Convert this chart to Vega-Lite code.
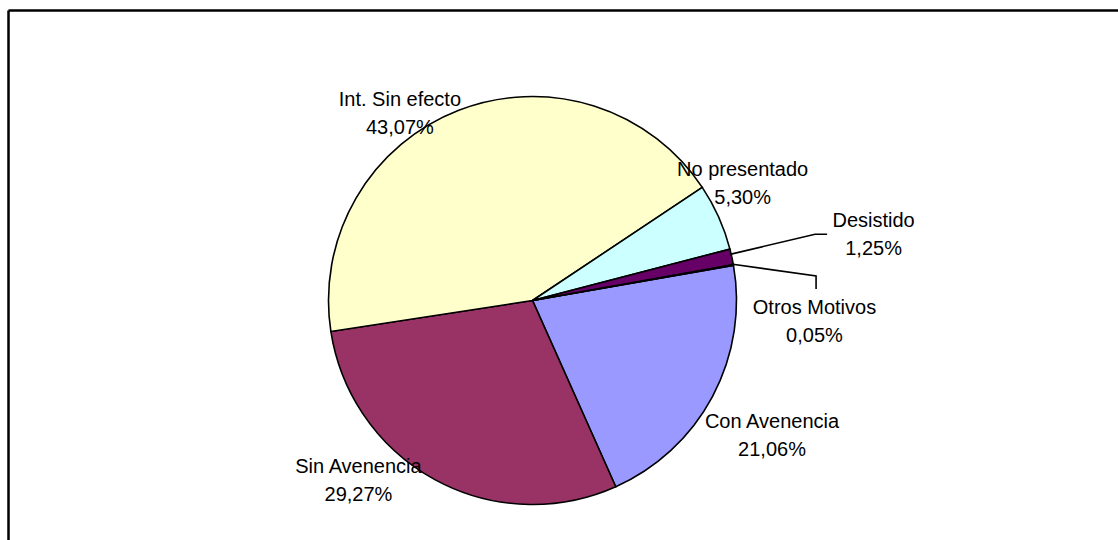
{
  "$schema": "https://vega.github.io/schema/vega-lite/v6.json",
  "width": 1110,
  "height": 530,
  "autosize": {"type": "none"},
  "padding": {"left": 8, "top": 10, "right": 0, "bottom": 0},
  "background": "white",
  "config": {"view": {"stroke": null}, "font": "Liberation Sans"},
  "datasets": {
    "slices": [
      {"category": "Con Avenencia", "pct": 21.06, "order": 1},
      {"category": "Sin Avenencia", "pct": 29.27, "order": 2},
      {"category": "Int. Sin efecto", "pct": 43.07, "order": 3},
      {"category": "No presentado", "pct": 5.30, "order": 4},
      {"category": "Desistido", "pct": 1.25, "order": 5},
      {"category": "Otros Motivos", "pct": 0.05, "order": 6}
    ],
    "labels": [
      {"category": "Con Avenencia", "pct": 21.06, "lx": 1.174, "ly": -0.663},
      {"category": "Sin Avenencia", "pct": 29.27, "lx": -0.853, "ly": -0.884},
      {"category": "Int. Sin efecto", "pct": 43.07, "lx": -0.650, "ly": 0.914},
      {"category": "No presentado", "pct": 5.30, "lx": 1.030, "ly": 0.569},
      {"category": "Desistido", "pct": 1.25, "lx": 1.672, "ly": 0.321},
      {"category": "Otros Motivos", "pct": 0.05, "lx": 1.382, "ly": -0.104}
    ],
    "leaders": [
      {"category": "Desistido", "seq": 1, "lx": 0.968, "ly": 0.226},
      {"category": "Desistido", "seq": 2, "lx": 1.385, "ly": 0.325},
      {"category": "Desistido", "seq": 3, "lx": 1.444, "ly": 0.325},
      {"category": "Otros Motivos", "seq": 1, "lx": 0.973, "ly": 0.179},
      {"category": "Otros Motivos", "seq": 2, "lx": 1.390, "ly": 0.120},
      {"category": "Otros Motivos", "seq": 3, "lx": 1.390, "ly": 0.056}
    ]
  },
  "layer": [
    {
      "data": {"name": "slices"},
      "mark": {"type": "arc", "radius": 204, "stroke": "black", "strokeWidth": 1.6},
      "encoding": {
        "x": {
          "datum": 0,
          "type": "quantitative",
          "scale": {"domain": [-2.571, 2.870], "nice": false, "zero": false},
          "axis": {"orient": "top", "domain": true, "domainColor": "black", "domainWidth": 2.5, "ticks": false, "labels": false, "grid": false, "title": null}
        },
        "y": {
          "datum": 0,
          "type": "quantitative",
          "scale": {"domain": [-1.174, 1.424], "nice": false, "zero": false},
          "axis": {"orient": "left", "domain": true, "domainColor": "black", "domainWidth": 2.5, "ticks": false, "labels": false, "grid": false, "title": null}
        },
        "theta": {"field": "pct", "type": "quantitative", "stack": true, "scale": {"range": [1.398, 7.681]}},
        "order": {"field": "order", "type": "quantitative", "sort": "ascending"},
        "color": {
          "field": "category",
          "type": "nominal",
          "scale": {
            "domain": ["Con Avenencia", "Sin Avenencia", "Int. Sin efecto", "No presentado", "Desistido", "Otros Motivos"],
            "range": ["#9999FF", "#993366", "#FFFFCC", "#CCFFFF", "#660066", "#FF8080"]
          },
          "legend": null
        }
      }
    },
    {
      "data": {"name": "leaders"},
      "mark": {"type": "line", "color": "black", "strokeWidth": 1.6},
      "encoding": {
        "x": {"field": "lx", "type": "quantitative"},
        "y": {"field": "ly", "type": "quantitative"},
        "detail": {"field": "category", "type": "nominal"},
        "order": {"field": "seq", "type": "quantitative"}
      }
    },
    {
      "data": {"name": "labels"},
      "transform": [
        {"calculate": "datum.category + '\\n' + replace(format(datum.pct, '.2f'), '.', ',') + '%'", "as": "label"}
      ],
      "mark": {"type": "text", "fontSize": 20, "lineHeight": 28, "lineBreak": "\n", "align": "center", "baseline": "middle", "dy": -14, "color": "black", "font": "Liberation Sans"},
      "encoding": {
        "x": {"field": "lx", "type": "quantitative"},
        "y": {"field": "ly", "type": "quantitative"},
        "text": {"field": "label", "type": "nominal"}
      }
    }
  ]
}
